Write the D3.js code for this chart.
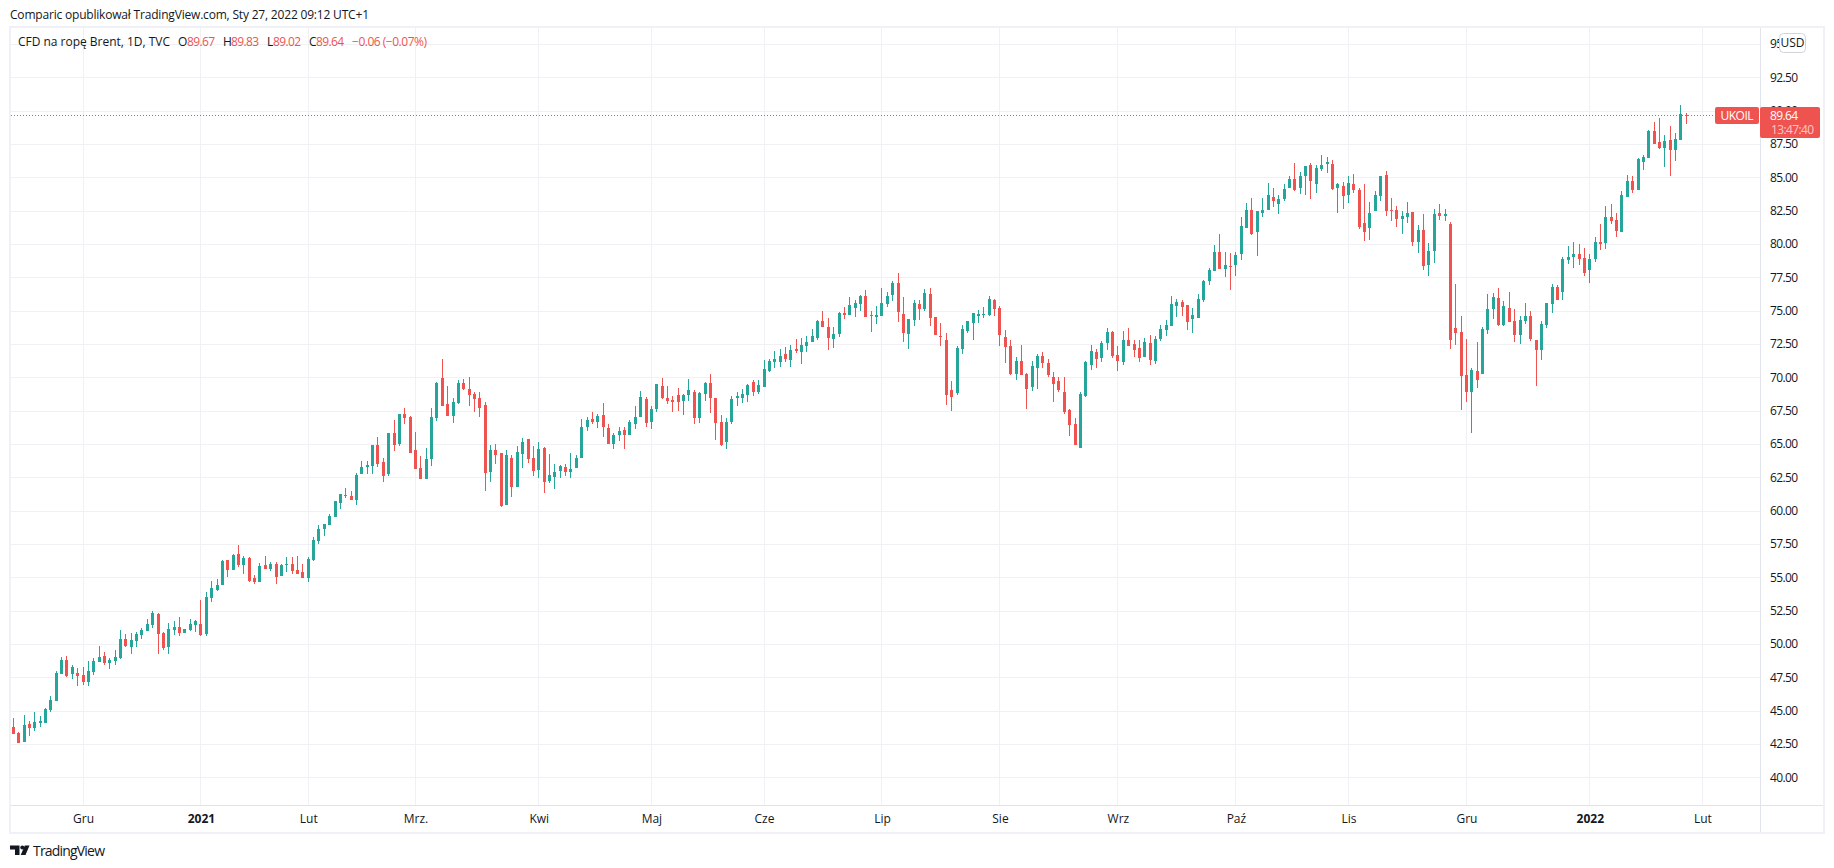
<!DOCTYPE html>
<html><head><meta charset="utf-8">
<script src="https://cdnjs.cloudflare.com/ajax/libs/d3/7.8.5/d3.min.js"></script>
<style>
html,body{margin:0;padding:0;background:#fff;overflow:hidden}
svg{display:block}
text{font-family:"Open Sans",sans-serif;fill:#131722}
</style></head><body>
<svg id="c" width="1834" height="868"></svg>
<script>
const highs=[44.45,43.40,44.68,44.23,44.90,44.60,45.20,46.10,47.98,49.03,
49.10,48.43,48.20,48.28,48.73,48.95,49.85,49.40,48.95,49.55,
51.05,50.75,50.83,50.90,51.20,51.88,52.48,52.33,50.90,51.58,
51.73,52.03,51.13,51.88,51.80,53.30,53.90,54.73,54.88,56.30,
56.30,56.75,57.43,56.60,56.53,55.18,56.08,56.60,56.15,56.15,
56.00,56.53,56.53,56.60,56.00,56.53,58.03,58.93,59.00,59.75,
60.73,61.25,61.70,61.48,62.83,63.73,63.73,64.93,65.53,63.95,
65.83,66.80,67.25,67.70,67.10,65.90,64.10,64.70,67.70,69.65,
71.38,69.35,68.45,69.80,69.88,70.03,68.90,68.90,68.15,64.93,
65.00,64.33,64.55,64.18,64.85,65.45,65.38,64.85,65.15,64.78,
64.25,63.50,63.43,63.50,64.33,64.18,66.88,67.03,67.40,67.25,
68.08,66.50,65.83,66.28,66.28,66.80,67.85,68.98,68.53,67.85,
69.50,69.95,69.35,68.60,69.20,68.75,69.88,69.05,68.90,69.65,
70.25,68.45,67.18,66.95,68.60,68.90,69.13,69.50,69.80,69.80,
71.30,71.38,71.98,72.13,72.28,72.43,72.88,72.95,73.10,73.63,
74.30,74.98,74.45,73.78,74.90,75.28,76.03,75.80,76.18,76.55,
74.98,75.35,76.70,76.40,77.23,77.83,76.03,74.38,75.80,75.80,
76.63,76.70,74.53,74.08,73.33,69.73,72.35,73.93,74.23,74.83,
75.05,75.28,76.10,75.88,75.35,73.55,72.80,71.53,72.43,70.33,
71.23,71.75,71.90,71.38,70.40,70.03,70.03,67.63,66.95,68.90,
71.23,72.43,72.13,72.73,73.70,73.48,72.35,73.48,73.70,72.80,
72.80,72.95,73.18,73.10,73.93,74.30,76.10,75.88,75.80,75.43,
75.20,76.25,77.30,78.20,79.93,80.75,79.40,79.33,79.40,82.03,
83.08,83.45,82.48,83.45,84.58,84.20,83.68,84.50,85.10,86.08,
85.40,85.85,86.08,85.93,86.68,86.53,86.30,84.58,84.65,85.10,
85.25,84.20,84.50,83.15,83.98,85.10,85.48,83.45,82.85,82.48,
83.15,82.40,81.43,82.25,80.08,82.63,83.00,82.63,81.65,77.00,
74.60,72.88,70.70,72.65,73.78,76.25,76.33,76.70,75.73,76.40,
75.13,74.60,75.58,74.98,72.80,74.23,75.58,77.00,76.93,79.03,
79.85,80.15,80.00,79.70,79.25,80.53,81.50,82.85,83.00,82.33,
83.98,85.18,85.10,86.45,86.68,88.55,89.15,89.45,88.18,88.85,
88.33,90.43,89.83];
const lows=[43.25,42.58,42.65,43.10,43.48,43.78,44.08,44.90,45.73,47.75,
47.53,47.38,46.85,46.93,46.85,47.68,48.65,48.43,48.13,48.43,
48.88,49.78,49.25,49.78,50.38,50.98,51.20,49.25,49.55,49.25,
50.68,50.60,50.83,50.98,50.90,50.60,50.60,53.15,53.98,54.43,
55.03,55.55,55.78,55.25,54.65,54.50,54.65,55.63,55.48,54.50,
55.10,55.40,55.25,55.25,54.95,54.65,56.23,57.50,58.10,58.93,
59.53,60.13,60.95,60.80,60.43,62.75,62.75,62.75,63.28,62.15,
62.60,64.48,64.85,66.50,64.33,63.13,62.38,62.38,63.35,66.73,
67.85,67.10,66.58,68.00,69.05,67.85,67.40,67.03,61.48,62.15,
63.50,60.28,60.43,61.03,61.78,63.20,63.58,62.60,62.45,61.33,
62.08,61.63,62.45,62.60,62.45,63.20,63.95,65.98,66.50,66.20,
65.53,65.00,64.63,65.23,64.63,65.68,66.13,67.03,66.28,66.13,
67.40,68.38,68.00,67.40,67.48,67.18,68.23,66.50,66.58,68.23,
67.33,65.30,64.85,64.63,66.50,67.85,68.08,68.15,68.60,68.75,
69.28,70.40,70.70,70.78,71.15,70.78,71.83,71.00,71.90,72.65,
72.80,73.78,72.05,72.20,73.03,74.38,74.68,74.53,74.98,74.53,
73.40,74.00,74.60,75.28,75.73,74.15,72.65,72.13,73.85,74.30,
74.98,73.85,73.18,72.35,67.93,67.48,68.68,71.75,73.33,72.80,
74.08,74.45,74.60,74.60,72.35,71.08,70.18,69.80,70.18,67.63,
68.98,69.13,70.70,70.03,68.15,68.90,67.25,65.60,64.93,64.70,
68.53,70.55,70.70,71.15,72.05,71.45,70.48,70.93,72.35,71.53,
71.15,71.53,70.93,71.00,72.73,73.10,73.85,74.53,74.60,73.55,
73.33,74.45,75.65,76.93,77.98,78.13,77.53,76.55,77.60,78.80,
81.20,80.68,79.10,82.03,82.55,82.78,82.25,83.23,84.20,83.98,
83.75,83.68,83.38,83.83,85.48,85.33,84.05,82.33,82.63,83.08,
83.83,81.13,80.23,80.30,82.48,83.23,82.10,81.73,81.28,80.75,
81.58,79.85,79.33,78.05,77.60,78.58,81.80,81.73,72.13,72.43,
67.55,68.15,65.83,69.20,70.25,73.25,74.38,73.85,73.85,74.15,
72.65,72.50,74.00,72.73,69.35,71.30,73.70,74.83,75.80,75.80,
78.50,78.20,78.43,77.60,77.08,78.65,79.55,79.63,81.50,80.53,
80.90,83.53,83.83,84.05,85.55,86.45,87.50,87.13,85.78,85.10,
86.23,87.80,89.02];
const opens=[43.78,43.33,42.65,44.00,43.70,44.08,44.08,45.05,45.73,47.75,
48.80,47.75,47.83,47.68,47.15,47.90,48.65,49.10,48.58,48.73,
48.95,50.38,49.78,50.23,50.68,50.98,51.43,52.25,50.83,49.78,
51.05,51.28,50.83,51.05,51.43,51.50,50.75,53.45,54.05,54.43,
56.30,55.55,56.75,55.93,56.45,54.95,54.65,55.93,55.63,56.00,
55.10,55.93,56.00,55.55,55.40,54.95,56.30,57.73,58.63,58.93,
59.53,60.58,61.18,61.10,60.80,62.75,63.28,63.35,64.93,63.65,
62.75,65.83,65.00,67.25,67.03,64.55,63.20,62.38,63.88,66.95,
69.95,68.00,67.10,68.08,69.58,69.13,68.75,68.45,67.93,62.90,
64.55,64.33,60.43,63.95,61.78,64.25,65.38,63.95,63.05,64.70,
62.23,62.53,62.98,63.28,62.90,63.20,63.95,66.28,66.88,66.65,
67.18,66.20,65.00,65.68,66.05,65.68,66.50,67.03,68.38,66.65,
67.63,69.35,68.45,68.30,68.68,68.23,68.68,68.90,66.95,68.75,
69.58,68.45,66.65,65.15,66.65,68.45,68.45,68.68,69.65,68.90,
69.28,70.48,71.15,71.15,71.75,71.30,72.13,71.90,72.35,72.65,
72.95,74.23,73.78,72.88,73.25,74.83,74.68,75.20,75.50,76.10,
74.68,74.53,74.60,75.50,76.18,77.08,74.75,73.25,74.30,75.50,
75.13,76.25,74.53,73.10,72.80,69.05,68.83,72.13,73.48,74.08,
74.60,74.68,74.68,75.80,75.20,73.03,72.35,70.25,71.23,70.25,
69.28,70.70,71.60,71.08,70.03,69.73,68.90,67.55,66.50,64.70,
68.60,70.93,71.90,71.45,72.58,73.40,71.68,71.15,72.80,72.50,
72.20,71.53,72.58,71.23,72.88,73.55,73.85,75.35,75.65,75.43,
74.38,74.45,75.80,77.23,77.98,79.40,78.13,78.35,78.43,79.25,
81.20,82.55,80.90,82.33,82.55,83.53,83.00,83.38,84.20,84.88,
84.20,85.10,85.93,84.50,85.63,86.00,86.00,84.20,84.35,83.68,
84.50,84.05,81.58,81.20,82.48,83.60,85.18,82.55,82.55,81.88,
82.03,82.40,80.15,81.05,78.43,79.48,82.33,82.10,81.50,73.70,
73.40,70.18,68.90,70.48,70.25,73.55,75.13,75.95,73.93,75.20,
74.23,73.18,74.23,74.60,72.80,72.05,73.93,75.50,76.78,76.40,
78.80,79.03,79.25,78.95,78.05,78.88,80.15,80.08,82.03,81.80,
80.90,83.53,84.73,84.05,86.15,86.45,88.48,87.65,87.20,87.80,
87.05,87.80,89.67];
const closes=[43.25,42.58,43.93,43.70,44.15,44.23,45.13,45.80,47.83,48.80,
47.60,48.28,47.60,47.15,47.98,48.73,49.03,48.58,48.80,49.03,
50.38,49.85,50.30,50.75,51.05,51.50,52.33,50.75,49.70,51.13,
51.28,50.83,51.13,51.50,51.73,50.68,53.53,54.20,54.43,56.23,
55.55,56.68,55.93,56.45,54.73,54.65,55.85,55.63,56.00,55.03,
55.93,56.00,55.48,55.25,54.95,56.38,57.80,58.63,59.00,59.60,
60.73,61.25,61.10,60.80,62.68,63.28,63.43,64.93,63.50,62.60,
65.83,64.93,67.25,66.95,64.33,63.13,62.38,63.88,67.03,69.58,
67.85,67.10,68.15,69.58,69.13,68.68,68.38,67.70,62.83,64.55,
64.18,60.35,64.18,61.78,64.40,65.15,63.88,62.98,64.63,62.15,
62.68,62.90,63.35,62.90,63.13,63.95,66.28,66.80,66.65,67.10,
66.28,65.00,65.68,65.98,65.68,66.65,67.03,68.53,66.58,67.63,
69.50,68.45,68.23,68.15,68.15,68.68,69.05,66.95,68.83,69.58,
68.45,66.58,64.93,66.65,68.38,68.60,68.75,69.43,68.90,69.43,
70.63,71.23,71.38,71.60,71.38,72.05,71.98,72.43,72.65,73.10,
74.23,73.78,72.95,73.25,74.83,74.68,75.43,75.58,76.10,74.53,
74.60,74.68,75.58,76.10,77.08,74.90,73.33,74.38,75.58,75.13,
76.33,74.45,73.18,73.03,68.68,68.53,72.20,73.63,74.23,74.83,
74.75,74.75,75.88,75.13,73.18,72.28,70.25,71.23,70.18,69.13,
70.85,71.60,71.08,70.18,69.50,69.05,67.40,66.43,64.93,68.75,
71.15,71.98,71.38,72.58,73.40,71.60,71.23,72.80,72.35,72.05,
71.45,72.65,71.30,72.88,73.63,73.93,75.50,75.65,75.28,74.15,
74.68,75.88,77.23,78.05,79.40,78.13,78.43,78.28,79.18,81.35,
82.55,80.75,82.48,82.55,83.68,83.23,83.38,84.13,84.88,84.05,
85.10,85.85,84.73,85.70,85.93,86.15,84.13,84.50,83.60,84.58,
84.05,81.28,80.90,82.33,83.68,85.10,82.48,82.48,81.88,82.10,
82.33,80.15,81.05,78.35,79.48,82.25,82.10,82.25,72.80,73.33,
70.10,68.90,70.55,69.80,73.63,75.13,76.03,73.93,75.35,74.15,
73.18,74.30,74.60,72.88,72.05,74.00,75.58,76.78,75.80,78.88,
79.03,79.25,78.88,77.83,78.88,80.15,80.00,82.03,81.73,80.98,
83.68,84.73,84.05,86.38,86.53,88.48,87.50,87.20,87.73,87.05,
87.88,89.75,89.64];
const monthBars=[14,36,56,76,99,120,141,163,185,207,229,250,272,295,316];
const monthLabels=["Gru","2021","Lut","Mrz.","Kwi","Maj","Cze","Lip","Sie","Wrz","Paź","Lis","Gru","2022","Lut"];
const priceTicks=[40,42.5,45,47.5,50,52.5,55,57.5,60,62.5,65,67.5,70,72.5,75,77.5,80,82.5,85,87.5,90,92.5,95];
const lastPrice=89.64, lastOHLC=["89.67","89.83","89.02","89.64"];

const GREEN="#26a69a",RED="#ef5350",GRID="#f0f1f4",LINE="#e0e3eb",FRAME="#f0f1f7",FONT='"Open Sans",sans-serif';
const svg=d3.select("#c");
const x=d3.scaleLinear().domain([1,316]).range([13.3,1702.4]);
const y=d3.scaleLinear().domain([40,95]).range([777.3,44]);
const L=11,R=1760,T=28,B=805;
const px=v=>Math.floor(v), py=v=>Math.round(v);

// grid
const grid=svg.append("g").attr("shape-rendering","crispEdges");
grid.selectAll(".h").data(priceTicks).join("line").attr("x1",L).attr("x2",R)
  .attr("y1",d=>py(y(d))+.5).attr("y2",d=>py(y(d))+.5).attr("stroke",GRID);
grid.selectAll(".v").data(monthBars).join("line").attr("y1",T).attr("y2",B)
  .attr("x1",d=>px(x(d))+.5).attr("x2",d=>px(x(d))+.5).attr("stroke",GRID);

// last price line
svg.append("line").attr("x1",L).attr("x2",1716).attr("y1",py(y(lastPrice))+.5).attr("y2",py(y(lastPrice))+.5)
  .attr("stroke",RED).attr("stroke-dasharray","1 2");

// candles
const idx=d3.range(highs.length);
const col=i=>closes[i]>=opens[i]?GREEN:RED;
const g=svg.append("g").attr("shape-rendering","crispEdges");
g.selectAll(".w").data(idx).join("rect")
  .attr("x",i=>px(x(i+1))).attr("width",1)
  .attr("y",i=>py(y(highs[i]))).attr("height",i=>Math.max(1,py(y(lows[i]))-py(y(highs[i]))))
  .attr("fill",col);
g.selectAll(".b").data(idx).join("rect")
  .attr("x",i=>px(x(i+1))-1).attr("width",3)
  .attr("y",i=>py(y(Math.max(opens[i],closes[i]))))
  .attr("height",i=>Math.max(1,py(y(Math.min(opens[i],closes[i])))-py(y(Math.max(opens[i],closes[i])))))
  .attr("fill",col);

// axes
const yAxis=d3.axisRight(y).tickValues(priceTicks).tickFormat(d3.format(".2f")).tickSize(0).tickPadding(0);
const ya=svg.append("g").attr("transform","translate(1770,0)").call(yAxis);
ya.select(".domain").remove();
ya.selectAll("text").attr("x",0).attr("font-size",12).attr("font-family",FONT).style("fill","#131722")
  .attr("textLength",28).attr("lengthAdjust","spacing");
const xAxis=d3.axisBottom(x).tickValues(monthBars).tickFormat((d,i)=>monthLabels[i]).tickSize(0).tickPadding(0);
const xa=svg.append("g").attr("transform","translate(0,814.5)").call(xAxis);
xa.select(".domain").remove();
xa.selectAll("text").attr("y",0).attr("font-size",12).attr("font-family",FONT).style("fill","#131722")
  .attr("font-weight",(d,i)=>/^20/.test(monthLabels[i])?700:400);

// frame
const fr=svg.append("g").attr("shape-rendering","crispEdges");
fr.append("rect").attr("x",10).attr("y",27).attr("width",1814).attr("height",806).attr("fill","none").attr("stroke",FRAME).attr("stroke-width",2);
fr.append("line").attr("x1",R+.5).attr("x2",R+.5).attr("y1",T).attr("y2",832).attr("stroke",LINE);
fr.append("line").attr("x1",L).attr("x2",1823).attr("y1",B+.5).attr("y2",B+.5).attr("stroke",LINE);

// header / legend
const tx=(s,xx,yy,c,o={})=>{const t=svg.append("text").attr("x",xx).attr("y",yy).attr("font-size",o.size||12).text(s).style("fill",c||"#131722");
  if(o.len)t.attr("textLength",o.len).attr("lengthAdjust","spacing");if(o.anchor)t.attr("text-anchor",o.anchor);if(o.weight)t.attr("font-weight",o.weight);return t;};
tx("Comparic opublikował TradingView.com, Sty 27, 2022 09:12 UTC+1",10,19,"#131722",{len:359});
tx("CFD na ropę Brent, 1D, TVC",18,46,"#131722",{len:152});
[["O",178],["H",223],["L",267],["C",309]].forEach((a,i)=>{tx(a[0],a[1],46,"#131722");tx(lastOHLC[i],[187,231,273,316][i],46,RED,{len:28});});
tx("−0.06 (−0.07%)",352,46,RED,{len:75});

// USD button
svg.append("rect").attr("x",1779.5).attr("y",33.5).attr("width",26).attr("height",19).attr("rx",4).attr("fill","#fff").attr("stroke","#d1d4dc");
tx("USD",1792.5,47,"#131722",{anchor:"middle"});

// price tags
svg.append("rect").attr("x",1715).attr("y",107).attr("width",44).attr("height",17).attr("rx",2).attr("fill",RED);
svg.append("rect").attr("x",1760).attr("y",107).attr("width",60).attr("height",31).attr("rx",2).attr("fill",RED);
tx("UKOIL",1737,120,"#fff",{anchor:"middle",len:33});
tx(d3.format(".2f")(lastPrice),1770,120,"#fff",{len:28});
tx("13:47:40",1771,134,"#fbc9c8",{len:43});

// logo
const lg=svg.append("g").attr("fill","#131722");
lg.append("path").attr("d","M10 845.5h9.5v9.5h-4.5v-5.5h-5z");
lg.append("circle").attr("cx",22.3).attr("cy",847.6).attr("r",2);
lg.append("path").attr("d","M24.8 845.5h4.7l-4 9.5h-4.8z");
tx("TradingView",33,856,"#131722",{size:14,len:72});
</script></body></html>
